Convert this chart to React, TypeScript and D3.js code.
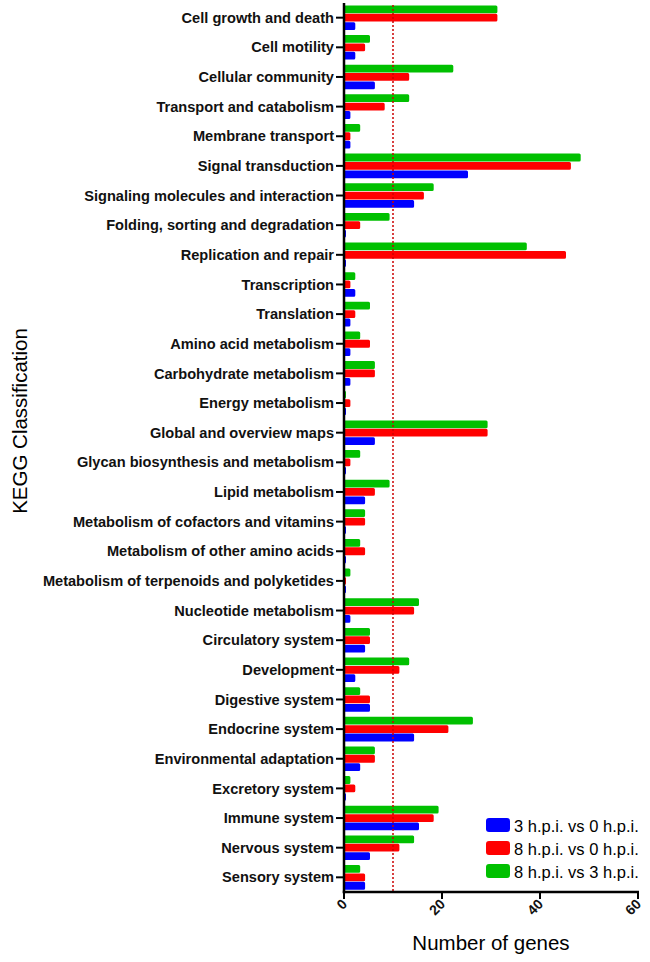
import React from "react";
import * as d3 from "d3";

const categories = [
  "Cell growth and death",
  "Cell motility",
  "Cellular community",
  "Transport and catabolism",
  "Membrane transport",
  "Signal transduction",
  "Signaling molecules and interaction",
  "Folding, sorting and degradation",
  "Replication and repair",
  "Transcription",
  "Translation",
  "Amino acid metabolism",
  "Carbohydrate metabolism",
  "Energy metabolism",
  "Global and overview maps",
  "Glycan biosynthesis and metabolism",
  "Lipid metabolism",
  "Metabolism of cofactors and vitamins",
  "Metabolism of other amino acids",
  "Metabolism of terpenoids and polyketides",
  "Nucleotide metabolism",
  "Circulatory system",
  "Development",
  "Digestive system",
  "Endocrine system",
  "Environmental adaptation",
  "Excretory system",
  "Immune system",
  "Nervous system",
  "Sensory system",
];

const hpi3vs0 = [2, 2, 6, 1, 1, 25, 14, 0, 0, 2, 1, 1, 1, 0, 6, 0, 4, 0, 0, 0, 1, 4, 2, 5, 14, 3, 0, 15, 5, 4];
const hpi8vs0 = [31, 4, 13, 8, 1, 46, 16, 3, 45, 1, 2, 5, 6, 1, 29, 1, 6, 4, 4, 0, 14, 5, 11, 5, 21, 6, 2, 18, 11, 4];
const hpi8vs3 = [31, 5, 22, 13, 3, 48, 18, 9, 37, 2, 5, 3, 6, 0, 29, 3, 9, 4, 3, 1, 15, 5, 13, 3, 26, 6, 1, 19, 14, 3];

const seriesNames = ["3 h.p.i. vs 0 h.p.i.", "8 h.p.i. vs 0 h.p.i.", "8 h.p.i. vs 3 h.p.i."];
const seriesColors = ["#0000ff", "#ff0000", "#00c000"];
const seriesValues = [hpi3vs0, hpi8vs0, hpi8vs3];
// drawing order within a group, top to bottom
const groupOrder = [2, 1, 0];

const xTicks = [0, 20, 40, 60];
const threshold = 10;

const FONT = "'Liberation Sans', Arial, Helvetica, sans-serif";

export default function App() {
  const W = 650;
  const H = 962;
  const left = 344;
  const right = 638;
  const top = 3;
  const bottom = 892;

  const x = d3.scaleLinear().domain([0, 60]).range([left, right]);
  const y = d3.scaleBand<string>().domain(categories).range([top, bottom]).paddingInner(0.15).paddingOuter(0.07);
  const inner = d3.scaleBand<number>().domain(groupOrder).range([0, y.bandwidth()]).padding(0);
  const sw = 3;

  return (
    <svg width={W} height={H} style={{ position: "absolute", left: 0, top: 0, background: "#fff" }} fontFamily={FONT}>
      <rect x={0} y={0} width={W} height={H} fill="#fff" />
      {/* bars */}
      {categories.map((c, i) => (
        <g key={c} transform={`translate(0,${y(c)})`}>
          {groupOrder.map((s) => {
            const v = seriesValues[s][i];
            const x0 = x(0) + 0.5;
            const w = Math.max(0, x(v) - x(0) - 0.5);
            const y0 = (inner(s) as number) + sw / 2 + 0.3;
            const h = inner.bandwidth() - sw - 0.6;
            const d = `M${x0},${y0}h${w}v${h}h${-w}Z`;
            return (
              <path
                key={s}
                d={d}
                fill={seriesColors[s]}
                stroke={seriesColors[s]}
                strokeWidth={sw}
                strokeLinejoin="round"
              />
            );
          })}
        </g>
      ))}
      {/* threshold line */}
      <line x1={x(threshold)} x2={x(threshold)} y1={top + 2} y2={bottom} stroke="#cc0000" strokeWidth={1.5} strokeDasharray="2,2" />
      {/* y axis */}
      <line x1={left} x2={left} y1={top} y2={bottom + 1.2} stroke="#000" strokeWidth={2.5} />
      {categories.map((c) => {
        const cy = (y(c) as number) + (inner(1) as number) + inner.bandwidth() / 2;
        return (
          <g key={"t" + c}>
            <line x1={left - 8} x2={left} y1={cy} y2={cy} stroke="#000" strokeWidth={2} />
            <text x={left - 10} y={cy} dy="0.35em" textAnchor="end" fontSize={14.6} fontWeight="bold" fill="#111">
              {c}
            </text>
          </g>
        );
      })}
      {/* x axis */}
      <line x1={left - 1.2} x2={right + 1} y1={bottom} y2={bottom} stroke="#000" strokeWidth={2.5} />
      {xTicks.map((t) => (
        <g key={"x" + t}>
          <line x1={x(t)} x2={x(t)} y1={bottom} y2={bottom + 7} stroke="#000" strokeWidth={2} />
          <text
            transform={`translate(${x(t) + 4},${bottom + 13}) rotate(-45)`}
            textAnchor="end"
            fontSize={14}
            fontWeight="bold"
            fill="#111"
          >
            {t}
          </text>
        </g>
      ))}
      {/* axis titles */}
      <text x={x(30)} y={950} textAnchor="middle" fontSize={20.5} fill="#000">
        Number of genes
      </text>
      <text transform={`translate(27,421) rotate(-90)`} textAnchor="middle" fontSize={20.5} fill="#000">
        KEGG Classification
      </text>
      {/* legend */}
      {seriesNames.map((n, k) => (
        <g key={n} transform={`translate(486,${818 + k * 23})`}>
          <rect x={0} y={0} width={24} height={14} rx={3} fill={seriesColors[k]} />
          <text x={28} y={13.5} fontSize={16.5} fill="#000">
            {n}
          </text>
        </g>
      ))}
    </svg>
  );
}
